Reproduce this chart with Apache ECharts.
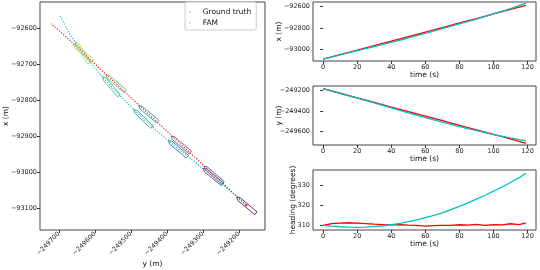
<!DOCTYPE html>
<html><head><meta charset="utf-8">
<script src="https://cdn.jsdelivr.net/npm/echarts@6/dist/echarts.min.js"></script>
<style>html,body{margin:0;padding:0;background:#fff}#c{width:540px;height:270px}</style>
</head><body><div id="c"></div>
<script>
// ---- data ----
const time = [0,10,20,30,40,50,60,70,80,90,100,110,119];
const gtX  = [-93092,-93050,-93007,-92965,-92923,-92880,-92838,-92796,-92753,-92711,-92668,-92626,-92588];
const gtY  = [-249180,-249225,-249271,-249316,-249362,-249407,-249452,-249498,-249543,-249589,-249634,-249679,-249722];
const famX = [-93092,-93052,-93012,-92974,-92935,-92894,-92851,-92807,-92762,-92716,-92668,-92619,-92567];
const famY = [-249180,-249226,-249273,-249321,-249370,-249419,-249467,-249512,-249556,-249597,-249635,-249669,-249697];

const headTime = [0,5,10,15,20,25,30,35,40,45,50,55,60,65,70,75,80,85,90,95,100,105,110,115,119];
const gtHeading  = [310.0,310.9,311.1,311.3,311.1,310.9,310.6,310.4,310.2,310.3,310.1,310.0,309.6,309.9,310.0,310.0,310.3,310.1,310.5,310.0,310.3,310.2,310.8,310.4,311.2];
const famHeading = [310.0,309.6,309.3,309.1,309.0,309.1,309.4,309.8,310.3,311.0,311.8,312.7,313.8,315.0,316.2,317.8,319.4,321.1,323.0,324.9,326.9,329.0,331.2,333.6,335.8];

const outlineTimes = [0,20,40,60,80,100];

const mapHorizTicks = [-249700,-249600,-249500,-249400,-249300,-249200];
const mapVertTicks  = [-92600,-92700,-92800,-92900,-93000,-93100];
const timeTicks     = [0,20,40,60,80,100,120];
const xTicks        = [-92600,-92800,-93000];
const yTicks        = [-249200,-249400,-249600];
const headingTicks  = [310,320,330];

// ---- styles ----
const RED = '#ff0000', CYAN = '#00bfbf';
const outlineColors = ['#440154','#443a83','#32658e','#21918c','#3aba76','#90d743'];
const SHIP_L = 70, SHIP_B = 10, SHIP_BOW = 9;
const FONT = 'DejaVu Sans';
const fmt = v => (v < 0 ? '\u2212' : '') + Math.abs(Math.round(v));

function axis(gridIndex, min, max, ticks, name, nameGap, extra) {
  const a = {
    type: 'value', gridIndex, min, max, scale: true,
    name, nameLocation: 'middle', nameGap, nameMoveOverlap: false,
    nameTextStyle: {fontFamily: FONT, fontSize: 7.5, color: '#111'},
    splitLine: {show: false},
    axisLine: {show: false},
    axisTick: {show: true, length: 3, lineStyle: {color: '#333', width: 1}, customValues: ticks},
    axisLabel: {fontFamily: FONT, fontSize: 6.5, color: '#222', margin: 3, formatter: fmt, customValues: ticks}
  };
  if (extra && extra.rotate) a.axisLabel.rotate = extra.rotate;
  return a;
}

const gridBase = {show: true, borderColor: '#444', borderWidth: 1, backgroundColor: '#fff', containLabel: false, outerBoundsMode: 'none'};
const grids = [
  Object.assign({left: 40, top: 2, width: 225, height: 228}, gridBase),
  Object.assign({left: 313, top: 2, width: 223, height: 59}, gridBase),
  Object.assign({left: 313, top: 86, width: 223, height: 59}, gridBase),
  Object.assign({left: 313, top: 170, width: 223, height: 60}, gridBase)
];

const xAxes = [
  axis(0, -249752.8, -249127.8, mapHorizTicks, 'y (m)', 30, {rotate: 45}),
  axis(1, -5.95, 124.95, timeTicks, 'time (s)', 10),
  axis(2, -5.95, 124.95, timeTicks, 'time (s)', 10),
  axis(3, -5.95, 124.95, timeTicks, 'time (s)', 10)
];
const yAxes = [
  axis(0, -93161, -92528, mapVertTicks, 'x (m)', 30),
  axis(1, -93110, -92556, xTicks, 'x (m)', 30),
  axis(2, -249739, -249153, yTicks, 'y (m)', 30),
  axis(3, 307.7, 337.4, headingTicks, 'heading (degrees)', 16)
];

// ship outline items: [yPos, xPos, heading, colorIdx]
const gtShips = [], famShips = [];
outlineTimes.forEach((t, k) => {
  const i = time.indexOf(t), j = headTime.indexOf(t);
  gtShips.push([gtY[i], gtX[i], gtHeading[j], k]);
  if (t > 0) famShips.push([famY[i], famX[i], famHeading[j], k]);
});

function renderShip(params, api) {
  const y = api.value(0), x = api.value(1), h = api.value(2) * Math.PI / 180;
  const col = outlineColors[api.value(3)];
  const L = SHIP_L / 2, B = SHIP_B / 2;
  const local = [[-L, -B], [L - SHIP_BOW, -B], [L, 0], [L - SHIP_BOW, B], [-L, B]];
  const pts = local.map(([a, b]) => {
    const north = a * Math.cos(h) - b * Math.sin(h);
    const east = a * Math.sin(h) + b * Math.cos(h);
    return api.coord([y + east, x + north]);
  });
  return {type: 'polygon', shape: {points: pts}, style: {fill: 'none', stroke: col, lineWidth: 1, opacity: 0.8}};
}

const lineS = (name, xi, data, color, dotted) => ({
  type: 'line', name, xAxisIndex: xi, yAxisIndex: xi, data, showSymbol: false, silent: true,
  animation: false, itemStyle: {color},
  lineStyle: dotted ? {color, width: 1.2, type: [1.2, 1.6], opacity: 0.9} : {color, width: 1.3}
});

const series = [
  lineS('FAM', 0, famY.map((v, i) => [v, famX[i]]), CYAN, true),
  lineS('Ground truth', 0, gtY.map((v, i) => [v, gtX[i]]), RED, true),
  {type: 'custom', xAxisIndex: 0, yAxisIndex: 0, data: famShips, renderItem: renderShip, silent: true, animation: false, clip: true},
  {type: 'custom', xAxisIndex: 0, yAxisIndex: 0, data: gtShips, renderItem: renderShip, silent: true, animation: false, clip: true},
  {type: 'scatter', xAxisIndex: 0, yAxisIndex: 0, data: [[gtY[0], gtX[0]]], symbolSize: 2.5, itemStyle: {color: RED, opacity: 0.8}, silent: true},
  lineS('gtx', 1, time.map((t, i) => [t, gtX[i]]), RED, false),
  lineS('famx', 1, time.map((t, i) => [t, famX[i]]), CYAN, false),
  lineS('gty', 2, time.map((t, i) => [t, gtY[i]]), RED, false),
  lineS('famy', 2, time.map((t, i) => [t, famY[i]]), CYAN, false),
  lineS('gth', 3, headTime.map((t, i) => [t, gtHeading[i]]), RED, false),
  lineS('famh', 3, headTime.map((t, i) => [t, famHeading[i]]), CYAN, false)
];

const chart = echarts.init(document.getElementById('c'), null, {renderer: 'canvas'});
chart.setOption({
  animation: false,
  backgroundColor: '#fff',
  grid: grids,
  xAxis: xAxes,
  yAxis: yAxes,
  legend: {
    data: [
      {name: 'Ground truth', itemStyle: {color: '#ff7070'}},
      {name: 'FAM', itemStyle: {color: '#70dcdc'}}
    ],
    orient: 'vertical', left: 185, top: 2,
    icon: 'circle', itemWidth: 16, itemHeight: 1.6, itemGap: 3,
    padding: [6, 5, 3, 4], borderColor: '#ccc', borderWidth: 1, borderRadius: 2,
    backgroundColor: 'rgba(255,255,255,0.8)',
    textStyle: {fontFamily: FONT, fontSize: 7.5, color: '#111'},
    selectedMode: false
  },
  series
});
</script>
</body></html>
